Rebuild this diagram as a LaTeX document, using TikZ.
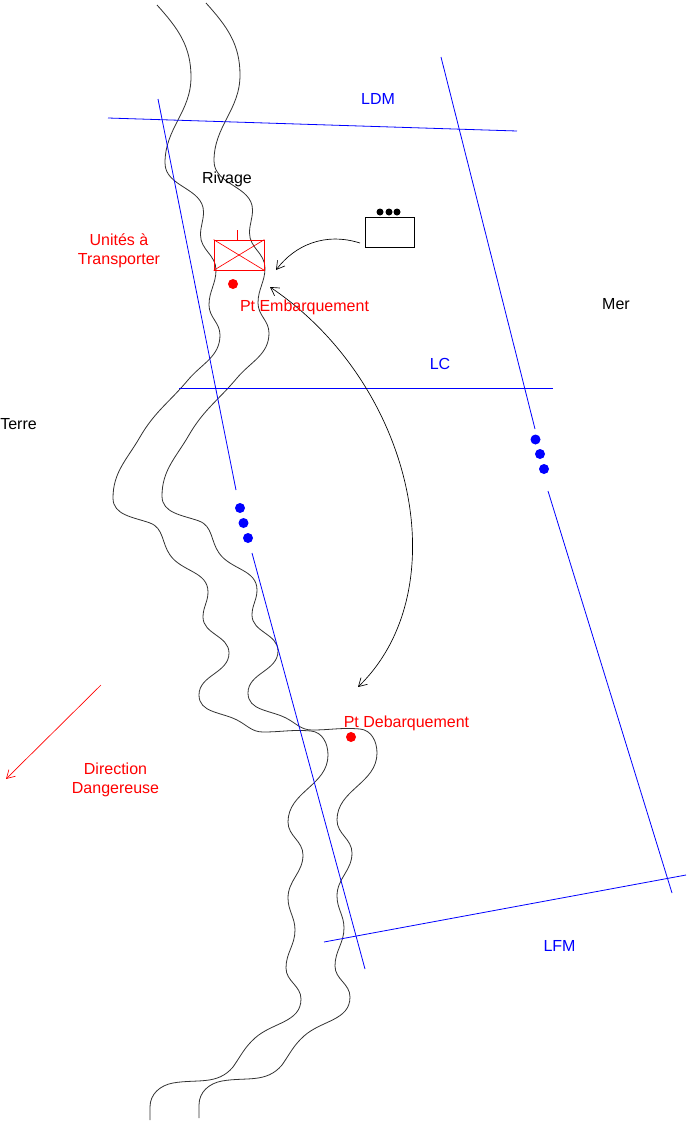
\documentclass[tikz,border=0pt]{standalone}
\usepackage{fontspec}
\setmainfont{Liberation Sans}
\usetikzlibrary{arrows.meta}
\definecolor{darkgrey}{RGB}{50,50,50}
\tikzset{
  limite/.style={blue,line width=0.6pt},
  rive/.style={darkgrey,line width=0.6pt},
  fleche/.style={black,line width=0.5pt,-{Straight Barb[length=6pt,width=7pt]}},
  txt/.style={font=\fontsize{12pt}{14pt}\selectfont,align=center,inner sep=0pt},
  txtrouge/.style={txt,red},
  txtbleu/.style={txt,blue}
}
% one bank of the shore, second one is the same shifted
\newcommand{\rivage}{(157,5) to[out=-48,in=90] (191,77)
  to[out=-90,in=90] (165,163) to[out=-90,in=90] (203.5,212)
  to[out=-90,in=90] (200.5,235) to[out=-90,in=90] (216,270)
  to[out=-90,in=90] (209,305) to[out=-90,in=90] (220,335)
  to[out=-90,in=50] (188,380) to[out=-130,in=60] (140,437)
  to[out=-120,in=90] (113,498) to[out=-90,in=160] (150,523)
  to[out=-20,in=125] (170,555) to[out=-55,in=90] (208,592)
  to[out=-90,in=90] (203,617) to[out=-90,in=90] (229,653)
  to[out=-90,in=90] (199,695) to[out=-90,in=153] (237,720)
  to[out=-27,in=180] (263,732) to[out=0,in=175] (311,731)
  to[out=-5,in=90] (328,755) to[out=-90,in=90] (288,822)
  to[out=-90,in=90] (303,855) to[out=-90,in=90] (288,898)
  to[out=-90,in=90] (295,930) to[out=-90,in=90] (286,968)
  to[out=-90,in=90] (301,999) to[out=-90,in=42] (255,1038)
  to[out=-138,in=55] (233,1067) to[out=-130,in=10] (173,1083)
  to[out=-170,in=90] (150,1107) -- (150,1120)}
\begin{document}
\begin{tikzpicture}[x=0.75pt,y=-0.75pt]
  \useasboundingbox (0,0) rectangle (686,1121);

  % shore
  \draw[rive] \rivage;
  \begin{scope}[xshift=36.75pt,yshift=1.5pt]
    \draw[rive] \rivage;
  \end{scope}

  % limits
  \draw[limite] (108,118) -- (517,131);
  \draw[limite] (179,388) -- (553,388);
  \draw[limite] (324,942) -- (686,875);
  \draw[limite] (158,99) -- (236,490);
  \draw[limite] (252,553) -- (365,969);
  \draw[limite] (441,57) -- (535,429);
  \draw[limite] (548,491) -- (672,893);
  \foreach \px/\py in {240/508,243.5/523,248/538,535.5/439.5,540/454,544/469}
    \fill[blue] (\px,\py) circle (5);

  % unit on the shore
  \node[draw=red,line width=0.6pt,minimum width=37.5pt,minimum height=22.5pt,inner sep=0pt] (unite) at (239,255) {};
  \draw[red,line width=0.5pt] (unite.north west) -- (unite.south east);
  \draw[red,line width=0.5pt] (unite.north east) -- (unite.south west);
  \draw[red,line width=0.5pt] (unite.north) ++(-2,0) -- ++(0,-10);
  \fill[red] (233,284) circle (5);
  \fill[red] (351,737) circle (5);

  % boat
  \node[draw=black,line width=0.6pt,minimum width=36.75pt,minimum height=22.5pt,inner sep=0pt] (navire) at (389.5,232) {};
  \foreach \px in {380,389,397}
    \fill[black] (\px,212) circle (3.5);

  % moves
  \coordinate (depart) at (360,243);
  \coordinate (arrivee) at (276,270);
  \coordinate (embarq) at (270,287);
  \coordinate (debarq) at (358,687);
  \draw[fleche] (depart) .. controls (325,232) and (295,245) .. (arrivee);
  \draw[fleche,{Straight Barb[length=6pt,width=7pt]}-{Straight Barb[length=6pt,width=7pt]}] (embarq) .. controls (415,385) and (458,590) .. (debarq);

  \coordinate (danger1) at (101,685);
  \coordinate (danger2) at (6,779);
  \draw[red,line width=0.5pt,-{Straight Barb[length=6pt,width=7pt]}] (danger1) -- (danger2);

  % labels
  \node[txtbleu] (ldm) at (378,99) {LDM};
  \node[txtbleu] (lc) at (440,364) {LC};
  \node[txtbleu] (lfm) at (559.5,946) {LFM};
  \node[txt] (mer) at (616,304) {Mer};
  \node[txt] (terre) at (18.5,424) {Terre};
  \node[txt] (rivage) at (227,179) {Rivage};
  \node[txtrouge] (unites) at (119,251) {Unit\'es \`a\\Transporter};
  \node[txtrouge] (ptemb) at (304.5,307) {Pt Embarquement};
  \node[txtrouge] (ptdeb) at (406.5,723) {Pt Debarquement};
  \node[txtrouge] (direction) at (115.5,780) {Direction\\Dangereuse};
\end{tikzpicture}
\end{document}
